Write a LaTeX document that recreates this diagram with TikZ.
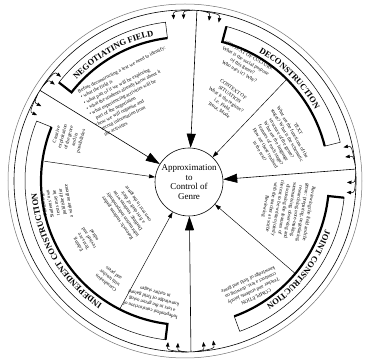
\documentclass[tikz,border=0pt]{standalone}
\usepackage{fontspec}
\setmainfont{Liberation Serif}
\usetikzlibrary{arrows.meta,calc,decorations.text}
\newcommand\bannerfont{\fontsize{8.5}{8.5}\selectfont\bfseries}
\newcommand\stagebanner[3]{%
  \draw[line width=0.5pt] ($(C)+(#1:144)$) arc[start angle=#1,end angle=#2,radius=144]
     -- ($(C)+(#2:160)$) arc[start angle=#2,end angle=#1,radius=160] -- cycle;
  \draw[line width=2.2pt] ($(C)+(#1:160)$) -- ($(C)+(#1:144)$) arc[start angle=#1,end angle=#2,radius=144];
  \path[decorate,decoration={text along path,text align=center,text={|\bannerfont|#3}}]
     ($(C)+(#1:148.5)$) arc[start angle=#1,end angle=#2,radius=148.5];
}
\newcommand\entryarrows[1]{%
  \foreach \o in {8,4.5,-4.5,-8}{
    \draw[entryarrow] ($(C)+({#1+0.3*\o}:171)$) .. controls ($(C)+({#1+\o}:170)$) .. ($(C)+({#1+\o}:162)$);
  }}
\begin{document}
\begin{tikzpicture}[x=1pt,y=1pt,
  blk/.style={font=\fontsize{5}{6.3}\selectfont, align=left, inner sep=0pt},
  blkc/.style={blk, align=center},
  bigarrow/.style={line width=0.6pt, -{Triangle[length=14pt,width=9pt]}},
  smallarrow/.style={line width=0.45pt, -{Triangle[length=6pt,width=4pt]}},
  entryarrow/.style={line width=0.5pt, -{Triangle[length=4.5pt,width=3.5pt]}}]
\useasboundingbox (0,0) rectangle (365,364);
\fill[white] (0,0) rectangle (365,364);
\coordinate (C) at (185,183);
% outer track
\draw[black!55, line width=0.5pt] (C) circle[radius=177];
\draw[line width=0.6pt] (C) circle[radius=171];
% centre
\node[circle, draw, line width=0.6pt, minimum size=68pt, inner sep=0pt, align=center,
      font=\fontsize{9}{9.5}\selectfont] (G) at (189,182) {Approximation\\to\\Control of\\Genre};
% banners
\stagebanner{142}{97}{NEGOTIATING FIELD}
\stagebanner{75}{14}{DECONSTRUCTION}
\stagebanner{-6}{-70}{JOINT CONSTRUCTION}
\stagebanner{263}{158}{INDEPENDENT CONSTRUCTION}
% entry arrows from the track
\entryarrows{86}
\entryarrows{4}
\entryarrows{-88}
\entryarrows{148}
% arrow starts
\coordinate (aT) at ($(C)+(86:171)$);
\coordinate (aR) at ($(C)+(4:171)$);
\coordinate (aB) at ($(C)+(-88:171)$);
\coordinate (aUL) at ($(C)+(148:171)$);
\coordinate (aUR) at ($(C)+(45:144)$);
\coordinate (aLR) at ($(C)+(-40:144)$);
\coordinate (aLL) at ($(C)+(-117:144)$);
\coordinate (aL) at ($(C)+(172:142)$);
\draw[bigarrow] (aT) -- (G);
\draw[bigarrow] (aR) -- (G);
\draw[bigarrow] (aB) -- (G);
\draw[bigarrow] (aUL) -- (G);
\draw[smallarrow] (aUR) -- (G);
\draw[smallarrow] (aLR) -- (G);
\draw[smallarrow] (aLL) -- (G);
\draw[smallarrow] (aL) -- (G);
% negotiating field
\node[blk, rotate=27] (nf) at (133,272) {Before deconstructing a text we need to identify:\\
• what the field is\\
• what part of it we will be exploring\\
• what the students already know about it\\
• what experiencing activities will be\\
\hspace*{4pt}part of the negotiation\\
• how we will organise and\\
\hspace*{4pt}record information from\\
\hspace*{4pt}the activities};
% deconstruction
\node[blkc, rotate=-30] (cc) at (244,300) {CONTEXT OF CULTURE\\What is the social purpose\\of this genre?\\Who uses it? Why?};
\node[blkc, rotate=-35] (cs) at (226,264) {CONTEXT OF\\SITUATION\\What is the register?\\i.e. Field,\\Tenor, Mode};
\node[blkc, rotate=-60] (tx) at (279,224) {TEXT\\What are the functions of the\\stages? What is the schematic\\structure of the genre?\\What are the language\\features of each stage?\\How are these realised\\in the text?};
% joint construction
\node[blkc, rotate=-100] (jc) at (287,154) {Reviewing the field and the\\genre: preparing, negotiating,\\researching, note-making,\\summarising, observing and\\discussing the features of\\the text to be written jointly\\with the teacher as scribe\\Reviewing};
\node[blkc, rotate=-155] (co) at (252,76) {COMPLETION\\Teacher and students jointly\\construct a text, drawing on\\knowledge of field and genre};
% independent construction
\node[blkc, rotate=75] (ic1) at (69,226) {Creative\\exploitation\\of the genre\\and its\\possibilities};
\node[blkc, rotate=100] (ic2) at (56,161) {Publishing\\Students' own\\texts may be\\published for\\a wider audience};
\node[blkc, rotate=122] (ic3) at (86,124) {Editing\\Texts are\\revised and\\edited};
\node[blkc, rotate=142] (ic4) at (110,86) {Consultation\\with teacher\\and peers};
\node[blkc, rotate=125] (ic5) at (128,153) {Research: students gather\\information independently\\Drafting: students write\\a first draft of their\\own text in the genre};
\node[blkc, rotate=165] (ic6) at (153,63) {Independent construction of\\a text in the genre using\\knowledge of field gained\\in earlier stages};
\end{tikzpicture}
\end{document}
